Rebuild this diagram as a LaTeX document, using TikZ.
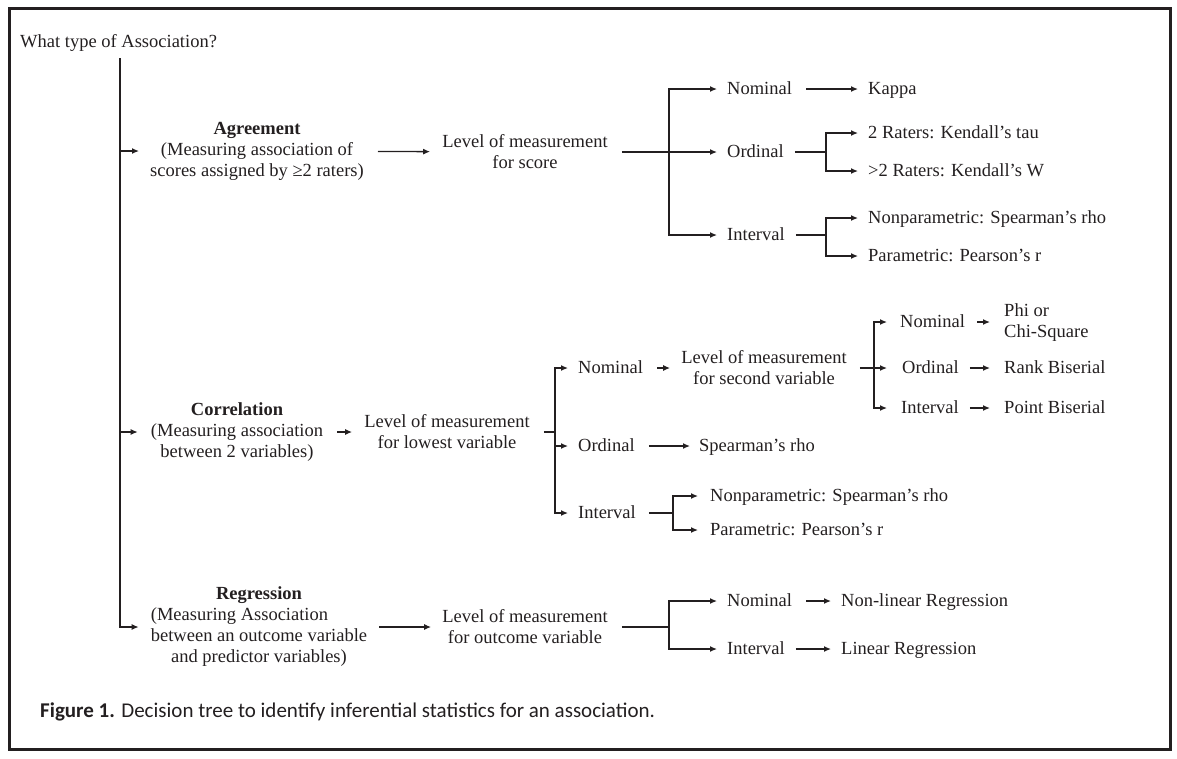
\documentclass[tikz,border=0pt]{standalone}
\usepackage{fontspec}
\setmainfont{Liberation Serif}
\newfontfamily\capfont{Carlito}
\usetikzlibrary{arrows.meta}
\definecolor{txt}{RGB}{35,31,32}
\definecolor{frame}{RGB}{35,31,32}
\newlength{\reglinewd}
\begin{document}
\begin{tikzpicture}[x=1pt,y=-1pt,
  every node/.style={font=\fontsize{18.5}{21}\selectfont, inner sep=0pt, text=txt},
  lb/.style={anchor=west, text height=10pt, text depth=0pt},
  ml/.style={align=center},
  ln/.style={line width=1.3pt, draw=txt},
  arr/.style={ln, -{Latex[length=7pt,width=6pt]}},
  tipgap/.style={shorten >=#1},
  startgap/.style={shorten <=#1},
]
\useasboundingbox (0,0) rectangle (1177,758);
\draw[line width=3pt, draw=frame] (9.5,8) rectangle (1170.5,749.5);

% question and main line
\node[lb] (q) at (20,42) {What type of Association?};
\coordinate (m0) at (120,58);

% first-level nodes
\node[ml] (agr) at (257,151) {\textbf{Agreement}\\(Measuring association of\\scores assigned by ≥2 raters)};
\node[ml] (cor) at (237,432) {\textbf{Correlation}\\(Measuring association\\between 2 variables)};
\node[ml] (reg) at (259,627) {\textbf{Regression}\\%
  \settowidth{\reglinewd}{between an outcome variable}%
  \hbox to \reglinewd{(Measuring Association\hfil}\\between an outcome variable\\and predictor variables)};

\draw[arr,tipgap=12pt] (m0) |- (reg);
\draw[arr,tipgap=11pt] (m0 |- agr) -- (agr);
\draw[arr,tipgap=13pt] (m0 |- cor) -- (cor);

% ---------- Agreement ----------
\node[ml] (la) at (525,152) {Level of measurement\\for score};
\draw[arr,startgap=14pt,tipgap=12pt] (agr) -- (la);
\coordinate (ja) at (669,152);
\draw[ln,startgap=14pt] (la) -- (ja);
\node[lb] (an) at (727,89) {Nominal};
\node[lb] (ao) at (727,152) {Ordinal};
\node[lb] (ai) at (727,235) {Interval};
\draw[arr,tipgap=10pt] (ja) |- (an);
\draw[arr,tipgap=10pt] (ja) -- (ao);
\draw[arr,tipgap=10pt] (ja) |- (ai);
\node[lb] (kap) at (868,89) {Kappa};
\draw[arr,startgap=14pt,tipgap=10pt] (an.east) -- (an.east -| kap.west);
\coordinate (jao) at (826,152);
\node[lb] (k1) at (868,133) {2 Raters: Kendall’s tau};
\node[lb] (k2) at (868,171) {>2 Raters: Kendall’s W};
\draw[ln,startgap=11pt] (ao.east) -- (jao);
\draw[arr,tipgap=10pt] (jao) |- (k1);
\draw[arr,tipgap=10pt] (jao) |- (k2);
\coordinate (jai) at (826,235);
\node[lb] (sp1) at (868,218) {Nonparametric: Spearman’s rho};
\node[lb] (pe1) at (868,256) {Parametric: Pearson’s r};
\draw[ln,startgap=11pt] (ai.east) -- (jai);
\draw[arr,tipgap=10pt] (jai) |- (sp1);
\draw[arr,tipgap=10pt] (jai) |- (pe1);

% ---------- Correlation ----------
\node[ml] (lc) at (447,432) {Level of measurement\\for lowest variable};
\draw[arr,startgap=14pt,tipgap=12pt] (cor) -- (lc);
\coordinate (jc) at (555,432);
\draw[ln,startgap=14pt] (lc) -- (jc);
\node[lb] (cn) at (578,368) {Nominal};
\node[lb] (co) at (578,446) {Ordinal};
\node[lb] (ci) at (578,513) {Interval};
\draw[arr,tipgap=10pt] (jc) |- (cn);
\draw[arr,tipgap=10pt] (jc) |- (co);
\draw[arr,tipgap=10pt] (jc) |- (ci);

\node[ml] (l2) at (764,368) {Level of measurement\\for second variable};
\draw[arr,startgap=14pt,tipgap=11pt] (cn.east) -- (cn.east -| l2.west);
\coordinate (j2) at (874,368);
\draw[ln,startgap=13pt] (l2) -- (j2);
\node[lb] (n2) at (900,322) {Nominal};
\node[lb] (o2) at (902,368) {Ordinal};
\node[lb] (i2) at (901,408) {Interval};
\draw[arr,tipgap=13pt] (j2) |- (n2);
\draw[arr,tipgap=15pt] (j2) -- (o2);
\draw[arr,tipgap=14pt] (j2) |- (i2);
\node[anchor=west, align=left] (phi) at (1004,323) {Phi or\\Chi-Square};
\node[lb] (rb) at (1004,368) {Rank Biserial};
\node[lb] (pb) at (1004,408) {Point Biserial};
\draw[arr,startgap=12pt,tipgap=14pt] (n2.east) -- (n2.east -| phi.west);
\draw[arr,startgap=11pt,tipgap=14pt] (o2.east) -- (rb.west);
\draw[arr,startgap=11pt,tipgap=14pt] (i2.east) -- (pb.west);

\node[lb] (sr) at (699,446) {Spearman’s rho};
\draw[arr,startgap=14pt,tipgap=9pt] (co.east) -- (sr.west);
\coordinate (jci) at (673,513);
\node[lb] (sp2) at (710,496) {Nonparametric: Spearman’s rho};
\node[lb] (pe2) at (710,530) {Parametric: Pearson’s r};
\draw[ln,startgap=13pt] (ci.east) -- (jci);
\draw[arr,tipgap=12pt] (jci) |- (sp2);
\draw[arr,tipgap=12pt] (jci) |- (pe2);

% ---------- Regression ----------
\node[ml] (lr) at (525,627) {Level of measurement\\for outcome variable};
\draw[arr,startgap=12pt,tipgap=11pt] (reg) -- (lr);
\coordinate (jr) at (669,627);
\draw[ln,startgap=14pt] (lr) -- (jr);
\node[lb] (rn) at (727,601) {Nominal};
\node[lb] (ri) at (727,649) {Interval};
\draw[arr,tipgap=10pt] (jr) |- (rn);
\draw[arr,tipgap=10pt] (jr) |- (ri);
\node[lb] (nlr) at (841,601) {Non-linear Regression};
\node[lb] (lreg) at (841,649) {Linear Regression};
\draw[arr,startgap=14pt,tipgap=10pt] (rn.east) -- (nlr.west);
\draw[arr,startgap=11pt,tipgap=10pt] (ri.east) -- (lreg.west);

% caption
\node[anchor=base west, font=\capfont\fontsize{21}{24}\selectfont] (cap) at (40,717)
  {\textbf{Figure 1.} Decision tree to identify inferential statistics for an association.};
\end{tikzpicture}
\end{document}
